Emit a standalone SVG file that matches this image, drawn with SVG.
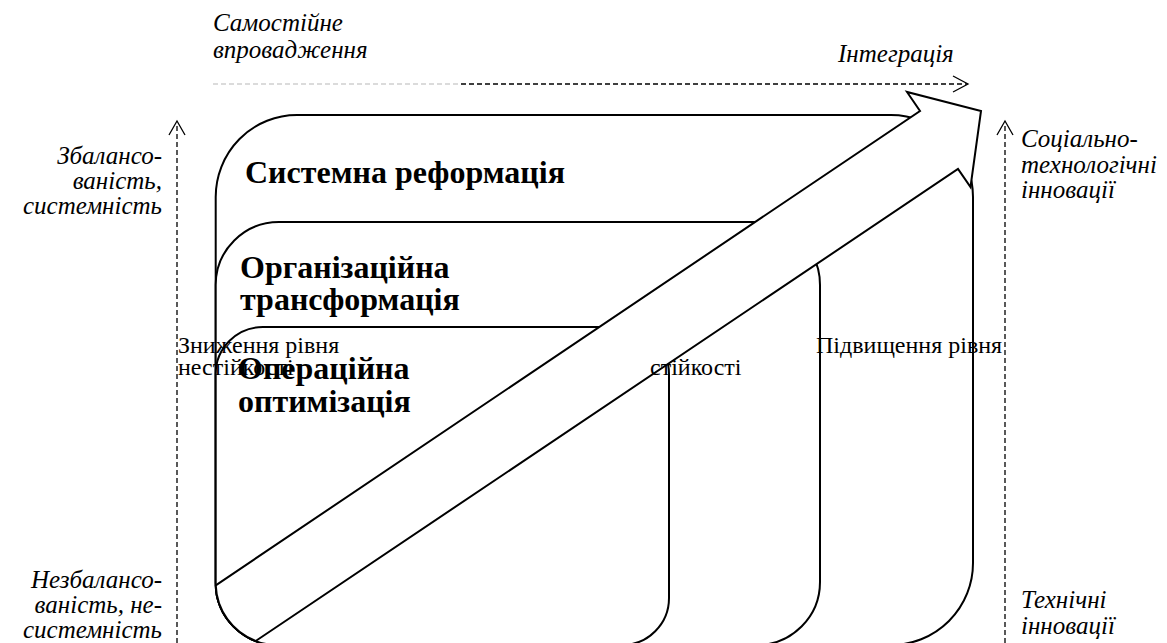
<svg xmlns="http://www.w3.org/2000/svg" width="1167" height="643" viewBox="0 0 1167 643">
<style>
.box{fill:#fff;stroke:#000;stroke-width:2}
.ax{fill:none;stroke:#000;stroke-width:1.3;stroke-dasharray:5 3}
.axg{fill:none;stroke:#d0d0d0;stroke-width:1.3;stroke-dasharray:5 3}
.hd{fill:none;stroke:#000;stroke-width:1.3}
text{font-family:'Liberation Serif','Times New Roman','DejaVu Serif',serif;fill:#000}
.it{font-style:italic;font-size:25px}
.bd{font-weight:bold;font-size:32px}
.rg{font-size:24px}
</style>
<rect width="1167" height="643" fill="#fff"/>
<g id="outer">
<path class="box" d="M297,115 H891 A82 82 0 0 1 973,197 V563 A82 82 0 0 1 891,645 H277.7 A62 62 0 0 1 215.7,583 V197 A81.3 82 0 0 1 297,115 Z"/>
<text class="bd" x="245" y="183">Системна реформація</text>
</g>
<g id="middle">
<path class="box" d="M279,222 H757 A63 63 0 0 1 820,285 V582 A63 63 0 0 1 757,645 H277.7 A62 62 0 0 1 215.7,583 V285 A63.3 63 0 0 1 279,222 Z"/>
<text class="bd" x="240" y="278">Організаційна</text>
<text class="bd" x="240" y="310">трансформація</text>
</g>
<g id="inner">
<path class="box" d="M263,327 H622 A47 47 0 0 1 669,374 V598 A47 47 0 0 1 622,645 H277.7 A62 62 0 0 1 215.7,583 V374 A47.3 47 0 0 1 263,327 Z"/>
<text class="bd" x="238" y="379">Операційна</text>
<text class="bd" x="238" y="412">оптимізація</text>
</g>
<g id="arrow">
<path class="box" d="M215.75,585.3 L920,111 L907,92 L981,111 L970.5,187 L958,169 L255.7,641 A62 62 0 0 1 215.75,585.3 Z"/>
</g>
<g id="connectors">
<line class="axg" x1="213" y1="84" x2="460" y2="84"/>
<line class="ax" x1="461" y1="84" x2="967" y2="84"/>
<polyline class="hd" points="953,76 968,84 953,92"/>
<line class="ax" x1="177" y1="643" x2="177" y2="123"/>
<polyline class="hd" points="169,135 177,121 185,135"/>
<line class="ax" x1="1005" y1="643" x2="1005" y2="123"/>
<polyline class="hd" points="997,135 1005,121 1013,135"/>
</g>
<g id="labels">
<text class="it" x="213" y="31">Самостійне</text>
<text class="it" x="213" y="58">впровадження</text>
<text class="it" x="838" y="62">Інтеграція</text>
<text class="it" x="162" y="164" text-anchor="end">Збалансо-</text>
<text class="it" x="162" y="189" text-anchor="end">ваність,</text>
<text class="it" x="162" y="214" text-anchor="end">системність</text>
<text class="it" x="162" y="588" text-anchor="end">Незбалансо-</text>
<text class="it" x="162" y="613" text-anchor="end">ваність, не-</text>
<text class="it" x="162" y="638" text-anchor="end">системність</text>
<text class="it" x="1021" y="147">Соціально-</text>
<text class="it" x="1021" y="173">технологічні</text>
<text class="it" x="1021" y="198">інновації</text>
<text class="it" x="1021" y="608">Технічні</text>
<text class="it" x="1021" y="634">інновації</text>
<text class="rg" x="178" y="353">Зниження рівня</text>
<text class="rg" x="178" y="375">нестійкості</text>
<text class="rg" x="650" y="375">стійкості</text>
<text class="rg" x="816" y="353">Підвищення рівня</text>
</g>
</svg>
